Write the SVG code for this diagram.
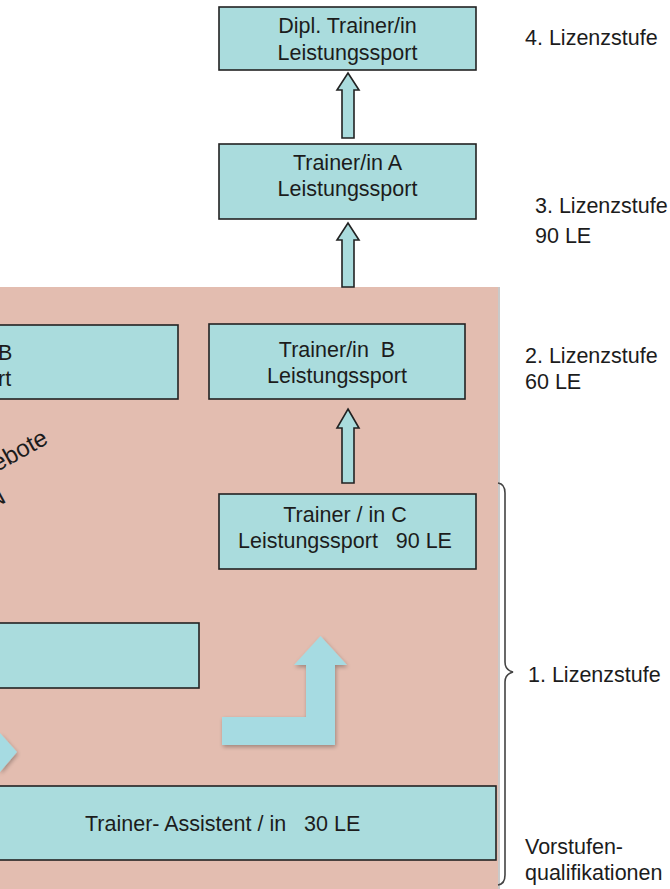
<svg xmlns="http://www.w3.org/2000/svg" width="670" height="889" viewBox="0 0 670 889">
<defs>
<style>
.box{fill:#aadcdd;stroke:#222;stroke-width:1.6}
.arr{fill:#aadcdd;stroke:#222;stroke-width:1.6;stroke-linejoin:miter}
.t{font-family:"Liberation Sans",Arial,sans-serif;font-size:21.5px;fill:#1c1c1c}
.c{text-anchor:middle}
.soft{fill:#a6dbe2}
</style>
<filter id="sh" x="-20%" y="-20%" width="140%" height="140%">
<feGaussianBlur in="SourceAlpha" stdDeviation="2"/>
<feOffset dx="1" dy="2"/>
<feComponentTransfer><feFuncA type="linear" slope="0.3"/></feComponentTransfer>
<feMerge><feMergeNode/><feMergeNode in="SourceGraphic"/></feMerge>
</filter>
</defs>
<rect width="670" height="889" fill="#ffffff"/>
<g id="background">
<rect x="0" y="287" width="498" height="602" fill="#e3bdb0"/>
<line x1="499" y1="287" x2="499" y2="889" stroke="#c9c9c9" stroke-width="2"/>
</g>
<g id="connectors">
<polygon class="arr" points="348,73 359,90 354,90 354,138 342,138 342,90 337,90"/>
<polygon class="arr" points="348,223 359,240 354,240 354,287 342,287 342,240 337,240"/>
<polygon class="arr" points="348,409 359,428 354,428 354,483 342,483 342,428 337,428"/>
<polygon class="soft" filter="url(#sh)" points="222,717 306,717 306,665 294,665 320.5,636 347,665 335,665 335,745 222,745"/>
<polygon class="soft" filter="url(#sh)" points="0,733 17,752 0,772"/>
</g>
<g id="node-dipl">
<rect class="box" x="219" y="7" width="257" height="63"/>
<text class="t c" x="347.5" y="33">Dipl. Trainer/in</text>
<text class="t c" x="347.5" y="60">Leistungssport</text>
</g>
<g id="node-a">
<rect class="box" x="219" y="144" width="257" height="75"/>
<text class="t c" x="347.5" y="170">Trainer/in A</text>
<text class="t c" x="347.5" y="196">Leistungssport</text>
</g>
<g id="node-b-left">
<rect class="box" x="-2" y="325" width="180" height="74"/>
<text class="t" x="-2" y="360">B</text>
<text class="t" x="-2" y="386">rt</text>
</g>
<g id="node-b">
<rect class="box" x="209" y="324" width="256" height="75"/>
<text class="t c" x="337" y="357" xml:space="preserve">Trainer/in  B</text>
<text class="t c" x="337" y="383">Leistungssport</text>
</g>
<g id="node-c">
<rect class="box" x="219" y="494" width="257" height="75"/>
<text class="t c" x="345" y="522">Trainer / in C</text>
<text class="t c" x="345" y="548" xml:space="preserve">Leistungssport   90 LE</text>
</g>
<g id="node-left-mid">
<rect class="box" x="-2" y="623" width="201" height="65"/>
</g>
<g id="node-assistent">
<rect class="box" x="-2" y="786" width="498" height="74"/>
<text class="t" x="85" y="831" xml:space="preserve">Trainer- Assistent / in   30 LE</text>
</g>
<g id="rotated-text">
<text class="t" x="-3" y="472" style="font-size:24px" transform="rotate(-29 -3 472)">ebote</text>
<text class="t" x="-8" y="510" style="font-size:24px" transform="rotate(-29 -8 510)">N</text>
</g>
<g id="labels">
<text class="t" x="525" y="45">4. Lizenzstufe</text>
<text class="t" x="535" y="213">3. Lizenzstufe</text>
<text class="t" x="535" y="243">90 LE</text>
<text class="t" x="525" y="363">2. Lizenzstufe</text>
<text class="t" x="525" y="389">60 LE</text>
<text class="t" x="528" y="682">1. Lizenzstufe</text>
<text class="t" x="525" y="854">Vorstufen-</text>
<text class="t" x="525" y="880">qualifikationen</text>
</g>
<g id="brace">
<path d="M498,483 Q505,484 505,493 L505,662 Q505,670 513,672 Q505,674 505,682 L505,875 Q505,884 498,885" fill="none" stroke="#444" stroke-width="1.6"/>
</g>
</svg>
